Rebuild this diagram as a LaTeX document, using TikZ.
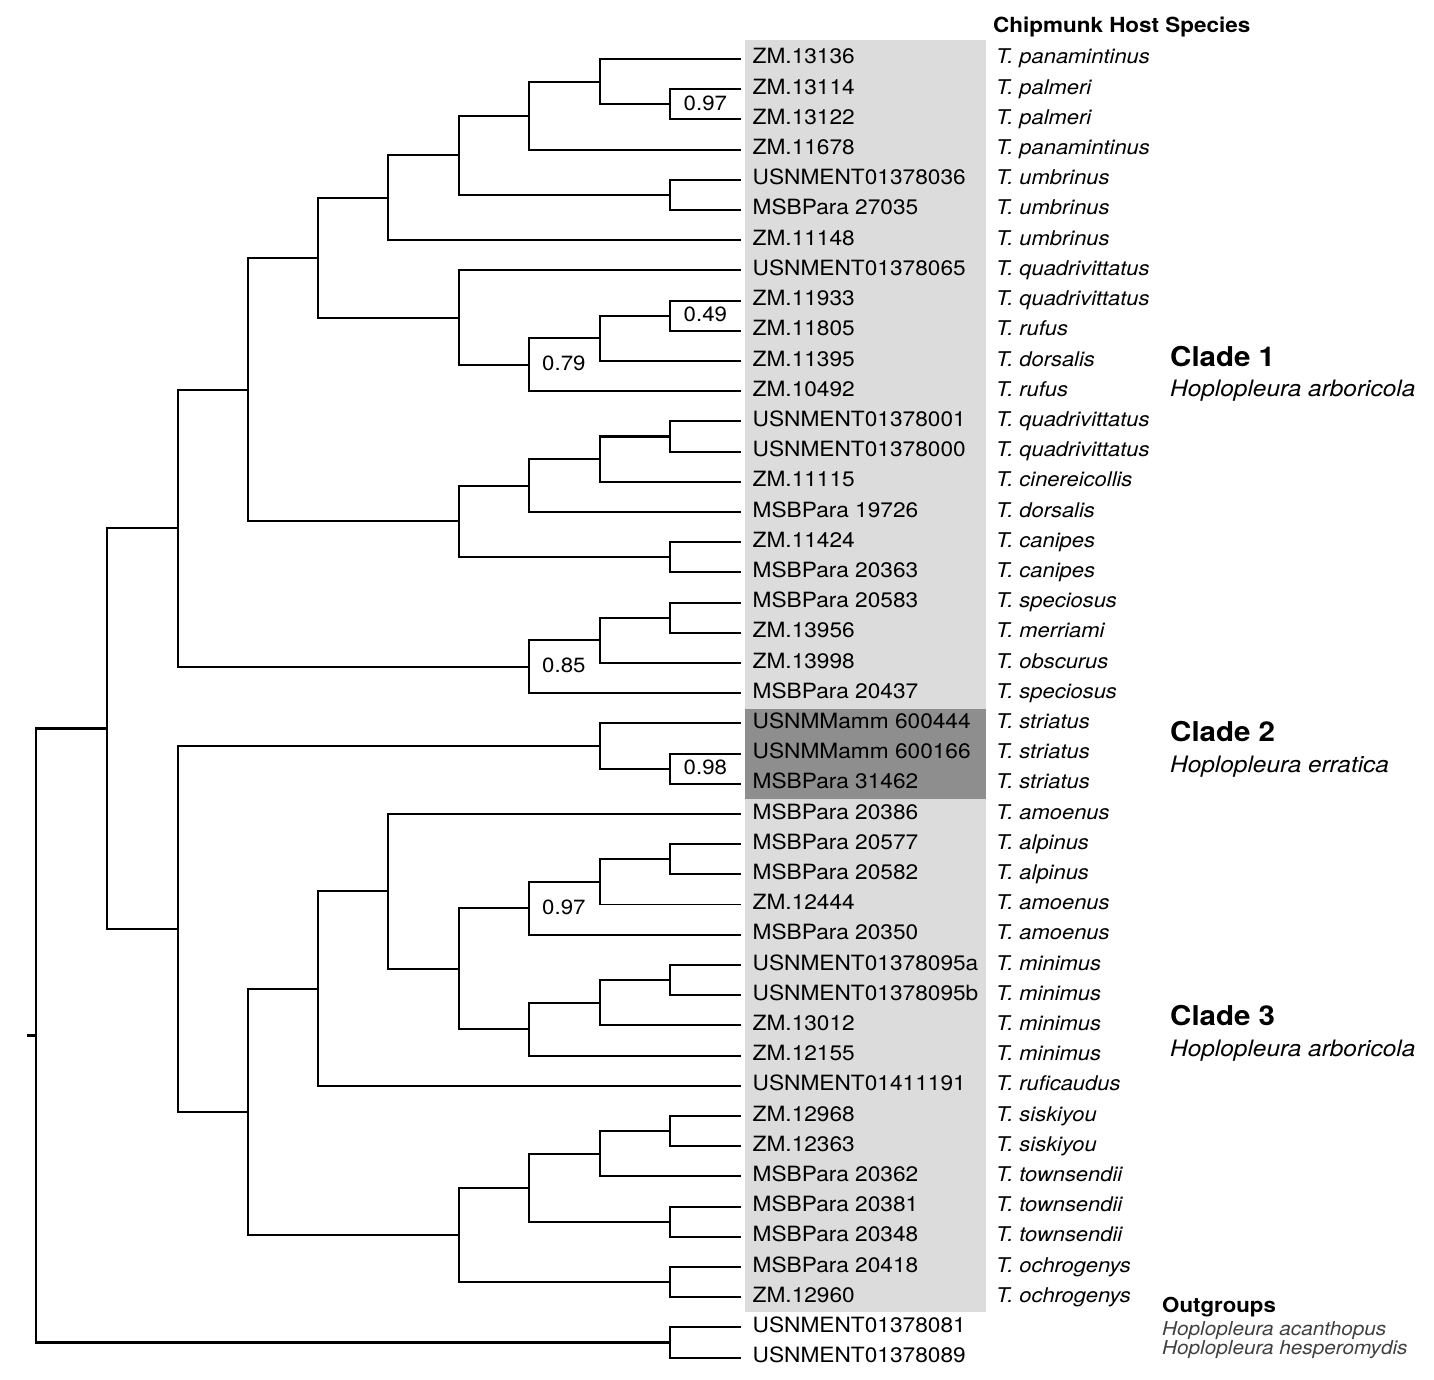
\documentclass[tikz,border=0pt]{standalone}
\usepackage{fontspec}
\newfontfamily\hv{TeX Gyre Heros}[FakeStretch=1.08]
\usetikzlibrary{calc}
\definecolor{boxlight}{HTML}{DCDCDC}
\definecolor{boxdark}{HTML}{8E8E8E}
\definecolor{outgray}{HTML}{404040}
\newcommand\mkclade[4]{%
  \path ($(#3)!0.5!(#4)$) coordinate (m#1);
  \coordinate (#1) at (#2 |- m#1);
  \draw[branch] (#3) -| (#1) |- (#4);
}
\begin{document}
\begin{tikzpicture}[x=1pt,y=-1pt,
  branch/.style={line width=2.1pt, line join=miter},
  thinbranch/.style={line width=1.3pt, line join=miter},
  leaflab/.style={anchor=base west, inner sep=0pt, font=\hv\fontsize{21}{21}\selectfont},
  hostlab/.style={anchor=base west, inner sep=0pt, font=\hv\itshape\fontsize{20.3}{20.3}\selectfont},
  supp/.style={anchor=base west, inner sep=0pt, font=\hv\fontsize{20.6}{20.6}\selectfont},
  hdrlab/.style={anchor=base west, inner sep=0pt, font=\hv\bfseries\fontsize{20.8}{20.8}\selectfont},
  cladelab/.style={anchor=base west, inner sep=0pt, font=\hv\bfseries\fontsize{27.3}{27.3}\selectfont},
  cladesp/.style={anchor=base west, inner sep=0pt, font=\hv\itshape\fontsize{22.6}{22.6}\selectfont},
  outlab/.style={anchor=base west, inner sep=0pt, text=outgray, font=\hv\itshape\fontsize{19.2}{19.2}\selectfont}]
\useasboundingbox (0,0) rectangle (1434,1380);
% shaded boxes
\fill[boxlight] (745,40) rectangle (986,1312);
\fill[boxdark] (745,708.5) rectangle (986,799);
% levels
\coordinate (X1) at (36,0);
\coordinate (X2) at (107,0);
\coordinate (X3) at (178,0);
\coordinate (X4) at (248,0);
\coordinate (X5) at (318,0);
\coordinate (X6) at (388,0);
\coordinate (X7) at (459,0);
\coordinate (X8) at (529,0);
\coordinate (X9) at (600,0);
\coordinate (X10) at (670,0);
% leaves
\foreach \i/\id/\sp in {
1/ZM.13136/T. panamintinus,
2/ZM.13114/T. palmeri,
3/ZM.13122/T. palmeri,
4/ZM.11678/T. panamintinus,
5/USNMENT01378036/T. umbrinus,
6/MSBPara 27035/T. umbrinus,
7/ZM.11148/T. umbrinus,
8/USNMENT01378065/T. quadrivittatus,
9/ZM.11933/T. quadrivittatus,
10/ZM.11805/T. rufus,
11/ZM.11395/T. dorsalis,
12/ZM.10492/T. rufus,
13/USNMENT01378001/T. quadrivittatus,
14/USNMENT01378000/T. quadrivittatus,
15/ZM.11115/T. cinereicollis,
16/MSBPara 19726/T. dorsalis,
17/ZM.11424/T. canipes,
18/MSBPara 20363/T. canipes,
19/MSBPara 20583/T. speciosus,
20/ZM.13956/T. merriami,
21/ZM.13998/T. obscurus,
22/MSBPara 20437/T. speciosus,
23/USNMMamm 600444/T. striatus,
24/USNMMamm 600166/T. striatus,
25/MSBPara 31462/T. striatus,
26/MSBPara 20386/T. amoenus,
27/MSBPara 20577/T. alpinus,
28/MSBPara 20582/T. alpinus,
29/ZM.12444/T. amoenus,
30/MSBPara 20350/T. amoenus,
31/USNMENT01378095a/T. minimus,
32/USNMENT01378095b/T. minimus,
33/ZM.13012/T. minimus,
34/ZM.12155/T. minimus,
35/USNMENT01411191/T. ruficaudus,
36/ZM.12968/T. siskiyou,
37/ZM.12363/T. siskiyou,
38/MSBPara 20362/T. townsendii,
39/MSBPara 20381/T. townsendii,
40/MSBPara 20348/T. townsendii,
41/MSBPara 20418/T. ochrogenys,
42/ZM.12960/T. ochrogenys}{
  \coordinate (l\i) at (741,{59+(\i-1)*30.2});
  \node[leaflab] (t\i) at (752.5,{64+(\i-1)*30.2}) {\id};
  \node[hostlab] (s\i) at (996,{64+(\i-1)*30.2}) {\sp};
}
\foreach \i/\id in {43/USNMENT01378081,44/USNMENT01378089}{
  \coordinate (l\i) at (741,{59+(\i-1)*30.2});
  \node[leaflab] (t\i) at (752.5,{64+(\i-1)*30.2}) {\id};
}
% Clade 1
\mkclade{a1}{X10}{l2}{l3}
\mkclade{a2}{X9}{l1}{a1}
\mkclade{a3}{X8}{a2}{l4}
\mkclade{a4}{X10}{l5}{l6}
\mkclade{a5}{X7}{a3}{a4}
\mkclade{a6}{X6}{a5}{l7}
\mkclade{b1}{X10}{l9}{l10}
\mkclade{b2}{X9}{b1}{l11}
\mkclade{b3}{X8}{b2}{l12}
\mkclade{b4}{X7}{l8}{b3}
\mkclade{c1}{X5}{a6}{b4}
\mkclade{d1}{X10}{l13}{l14}
\mkclade{d2}{X9}{d1}{l15}
\mkclade{d3}{X8}{d2}{l16}
\mkclade{d4}{X10}{l17}{l18}
\mkclade{d5}{X7}{d3}{d4}
\mkclade{e1}{X4}{c1}{d5}
\mkclade{f1}{X10}{l19}{l20}
\mkclade{f2}{X9}{f1}{l21}
\mkclade{f3}{X8}{f2}{l22}
\mkclade{g1}{X3}{e1}{f3}
% Clade 2
\mkclade{h1}{X10}{l24}{l25}
\mkclade{h2}{X9}{l23}{h1}
% Clade 3
\mkclade{i1}{X10}{l27}{l28}
\path ($(i1)!0.5!(l29)$) coordinate (mi2);
\coordinate (i2) at (X9 |- mi2);
\draw[branch] (i1) -| (i2);
\draw[thinbranch] (i2) |- (l29);
\mkclade{i3}{X8}{i2}{l30}
\mkclade{i4}{X10}{l31}{l32}
\mkclade{i5}{X9}{i4}{l33}
\mkclade{i6}{X8}{i5}{l34}
\mkclade{i7}{X7}{i3}{i6}
\mkclade{i8}{X6}{l26}{i7}
\mkclade{i9}{X5}{i8}{l35}
\mkclade{j1}{X10}{l36}{l37}
\mkclade{j2}{X9}{j1}{l38}
\mkclade{j3}{X10}{l39}{l40}
\mkclade{j4}{X8}{j2}{j3}
\mkclade{j5}{X10}{l41}{l42}
\mkclade{j6}{X7}{j4}{j5}
\mkclade{k1}{X4}{i9}{j6}
\mkclade{m1}{X3}{h2}{k1}
\mkclade{n1}{X2}{g1}{m1}
% Outgroups and root
\mkclade{o1}{X10}{l43}{l44}
\mkclade{r}{X1}{n1}{o1}
\coordinate (rs) at ($(r)+(-9.5,0)$);
\draw[branch] (rs) -- (r);
% support values
\node[supp] (p1) at ($(a1)+(13.5,6)$) {0.97};
\node[supp] (p2) at ($(b1)+(13.5,6)$) {0.49};
\node[supp] (p3) at ($(b3)+(13,6)$) {0.79};
\node[supp] (p4) at ($(f3)+(13,6)$) {0.85};
\node[supp] (p5) at ($(h1)+(13.5,6)$) {0.98};
\node[supp] (p6) at ($(i3)+(13,6)$) {0.97};
% right-hand labels
\node[hdrlab] (hdr) at (993,33) {Chipmunk Host Species};
\node[cladelab] (cl1) at (1170,366.7) {Clade 1};
\node[cladesp] (cs1) at (1170,396) {Hoplopleura arboricola};
\node[cladelab] (cl2) at (1170,741.7) {Clade 2};
\node[cladesp] (cs2) at (1170,772) {Hoplopleura erratica};
\node[cladelab] (cl3) at (1170,1025.7) {Clade 3};
\node[cladesp] (cs3) at (1170,1056) {Hoplopleura arboricola};
\node[hdrlab, font=\hv\bfseries\fontsize{20.6}{20.6}\selectfont] (og) at (1162,1312.3) {Outgroups};
\node[outlab] (og1) at (1162,1335) {Hoplopleura acanthopus};
\node[outlab] (og2) at (1162,1354) {Hoplopleura hesperomydis};
\end{tikzpicture}
\end{document}
